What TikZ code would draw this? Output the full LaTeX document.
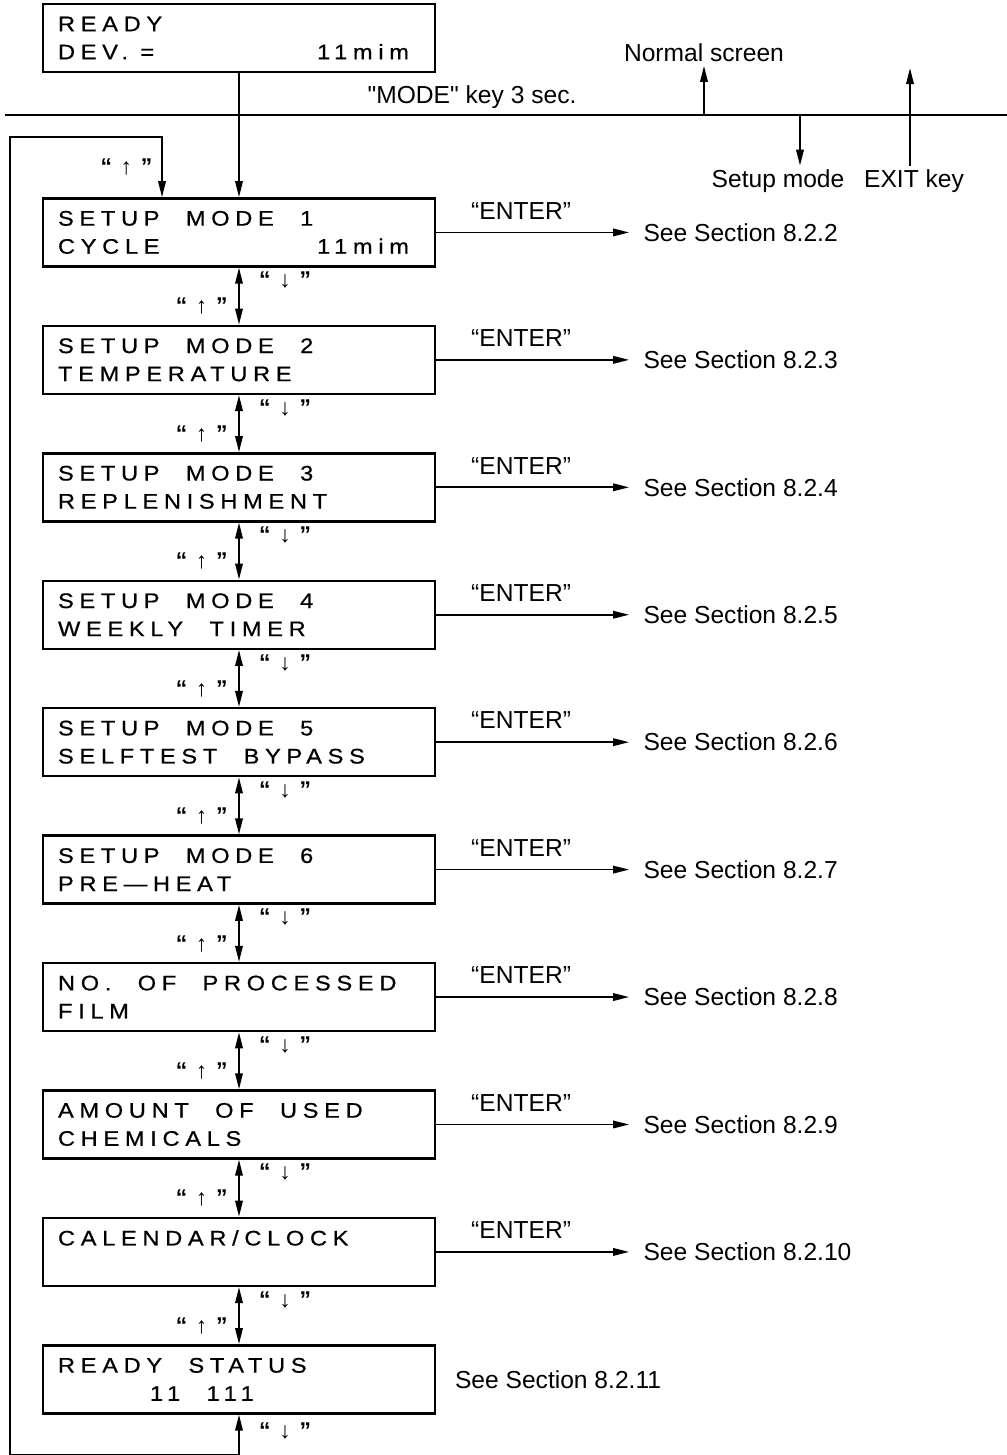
\documentclass[tikz,border=0pt]{standalone}
\usepackage{fontspec}
\setmainfont{Liberation Sans}
\newfontfamily\lcdfont[LetterSpace=27,FakeStretch=1.12,FakeBold=0.6]{Liberation Sans}
\usetikzlibrary{arrows.meta,positioning}
\newcommand{\gap}{\hspace{15pt}}
\newcommand{\rfill}{\hskip 0pt plus 1filll\relax}
\newcommand{\rpad}{\rule{0.22cm}{0pt}}
\newcommand{\keyup}{{\bfseries “}\hspace{5pt}↑\hspace{5pt}{\bfseries ”}}
\newcommand{\keydn}{{\bfseries “}\hspace{5pt}↓\hspace{5pt}{\bfseries ”}}

\begin{document}
\begin{tikzpicture}[
  x=0.02cm, y=-0.02cm,
  lcd/.style={draw, rectangle, line width=1.4pt,
              minimum width=7.84cm, minimum height=1.36cm,
              text width=7.24cm, inner xsep=0.3cm, inner ysep=0pt,
              align=left, font=\lcdfont\fontsize{12}{16}\selectfont},
  arr/.style={-{Triangle[length=0.32cm,width=0.15cm]}, line width=1pt},
  both/.style={{Triangle[length=0.32cm,width=0.15cm]}-{Triangle[length=0.32cm,width=0.15cm]},
               line width=1pt},
  lbl/.style={font=\fontsize{14}{16}\selectfont, inner sep=2pt},
  sec/.style={lbl, inner xsep=8pt},
  key/.style={font=\fontsize{13}{15}\selectfont, inner sep=1pt},
  node distance=1.14cm
]
  \useasboundingbox (0,0) rectangle (1007,1455);

  %% Normal screen
  \node[lcd] (ready) at (239,38) {READY\\DEV.\hspace{7pt}=\rfill 11mim\rpad};

  %% Mode line
  \coordinate (lineL) at (5,115);
  \coordinate (lineR) at (1007,115);
  \draw[line width=1.2pt] (lineL) -- (lineR);
  \node[lbl] (modekey) at (472,97) {\textquotedbl MODE\textquotedbl{} key 3 sec.};
  \node[lbl] (normal) at (704,53) {Normal screen};
  \coordinate (normalfoot) at (704,115);
  \node[lbl] (setup) at (778,181) {Setup mode};
  \coordinate (setupfoot) at (800,115);
  \node[lbl] (exit) at (914,181) {EXIT key};
  \coordinate (exittop) at (910,68);

  %% Setup menu
  \node[lcd, below=2.48cm of ready] (s1) {SETUP\gap MODE\gap 1\\CYCLE\rfill 11mim\rpad};
  \node[lcd, below=of s1] (s2) {SETUP\gap MODE\gap 2\\TEMPERATURE};
  \node[lcd, below=of s2] (s3) {SETUP\gap MODE\gap 3\\REPLENISHMENT};
  \node[lcd, below=of s3] (s4) {SETUP\gap MODE\gap 4\\WEEKLY\gap TIMER};
  \node[lcd, below=of s4] (s5) {SETUP\gap MODE\gap 5\\SELFTEST\gap BYPASS};
  \node[lcd, below=of s5] (s6) {SETUP\gap MODE\gap 6\\PRE—HEAT};
  \node[lcd, below=of s6] (film) {NO.\gap OF\gap PROCESSED\\FILM};
  \node[lcd, below=of film] (chem) {AMOUNT\gap OF\gap USED\\CHEMICALS};
  \node[lcd, below=of chem] (clock) {CALENDAR/CLOCK\\\mbox{}};
  \node[lcd, below=of clock] (status) {READY\gap STATUS\\\hspace*{1.84cm}11\gap 111};

  %% Sections
  \node[sec, right=3.86cm of s1] (sec2) {See Section 8.2.2};
  \node[sec, right=3.86cm of s2] (sec3) {See Section 8.2.3};
  \node[sec, right=3.86cm of s3] (sec4) {See Section 8.2.4};
  \node[sec, right=3.86cm of s4] (sec5) {See Section 8.2.5};
  \node[sec, right=3.86cm of s5] (sec6) {See Section 8.2.6};
  \node[sec, right=3.86cm of s6] (sec7) {See Section 8.2.7};
  \node[sec, right=3.86cm of film] (sec8) {See Section 8.2.8};
  \node[sec, right=3.86cm of chem] (sec9) {See Section 8.2.9};
  \node[sec, right=3.86cm of clock] (sec10) {See Section 8.2.10};
  \node[lbl, right=0.3cm of status] (sec11) {See Section 8.2.11};

  %% Arrows
  \draw[arr] (normalfoot) -- (normal);
  \draw[arr] (setupfoot) -- (setupfoot |- setup.north);
  \draw[arr] (exit.north -| exittop) -- (exittop);
  \draw[arr] (ready) -- (s1);
  \draw[arr] (s1) -- node[lbl, pos=0.44, above=5pt] {“ENTER”} (sec2);
  \draw[arr] (s2) -- node[lbl, pos=0.44, above=5pt] {“ENTER”} (sec3);
  \draw[arr] (s3) -- node[lbl, pos=0.44, above=5pt] {“ENTER”} (sec4);
  \draw[arr] (s4) -- node[lbl, pos=0.44, above=5pt] {“ENTER”} (sec5);
  \draw[arr] (s5) -- node[lbl, pos=0.44, above=5pt] {“ENTER”} (sec6);
  \draw[arr] (s6) -- node[lbl, pos=0.44, above=5pt] {“ENTER”} (sec7);
  \draw[arr] (film) -- node[lbl, pos=0.44, above=5pt] {“ENTER”} (sec8);
  \draw[arr] (chem) -- node[lbl, pos=0.44, above=5pt] {“ENTER”} (sec9);
  \draw[arr] (clock) -- node[lbl, pos=0.44, above=5pt] {“ENTER”} (sec10);

  \draw[both] (s1) -- node[key, pos=0.22, right=10pt] {\keydn} node[key, pos=0.68, left=5pt] {\keyup} (s2);
  \draw[both] (s2) -- node[key, pos=0.22, right=10pt] {\keydn} node[key, pos=0.68, left=5pt] {\keyup} (s3);
  \draw[both] (s3) -- node[key, pos=0.22, right=10pt] {\keydn} node[key, pos=0.68, left=5pt] {\keyup} (s4);
  \draw[both] (s4) -- node[key, pos=0.22, right=10pt] {\keydn} node[key, pos=0.68, left=5pt] {\keyup} (s5);
  \draw[both] (s5) -- node[key, pos=0.22, right=10pt] {\keydn} node[key, pos=0.68, left=5pt] {\keyup} (s6);
  \draw[both] (s6) -- node[key, pos=0.22, right=10pt] {\keydn} node[key, pos=0.68, left=5pt] {\keyup} (film);
  \draw[both] (film) -- node[key, pos=0.22, right=10pt] {\keydn} node[key, pos=0.68, left=5pt] {\keyup} (chem);
  \draw[both] (chem) -- node[key, pos=0.22, right=10pt] {\keydn} node[key, pos=0.68, left=5pt] {\keyup} (clock);
  \draw[both] (clock) -- node[key, pos=0.22, right=10pt] {\keydn} node[key, pos=0.68, left=5pt] {\keyup} (status);

  %% Loop back
  \coordinate (loopbot) at (10,1455);
  \coordinate (looptop) at (10,137);
  \coordinate (s1in) at ([xshift=-1.54cm]s1.north);
  \draw[both] (status) |- node[key, pos=0.2, right=10pt] {\keydn} (loopbot)
    -- (looptop) -| node[key, pos=0.75, left=4pt] {\keyup} (s1in);
\end{tikzpicture}
\end{document}
